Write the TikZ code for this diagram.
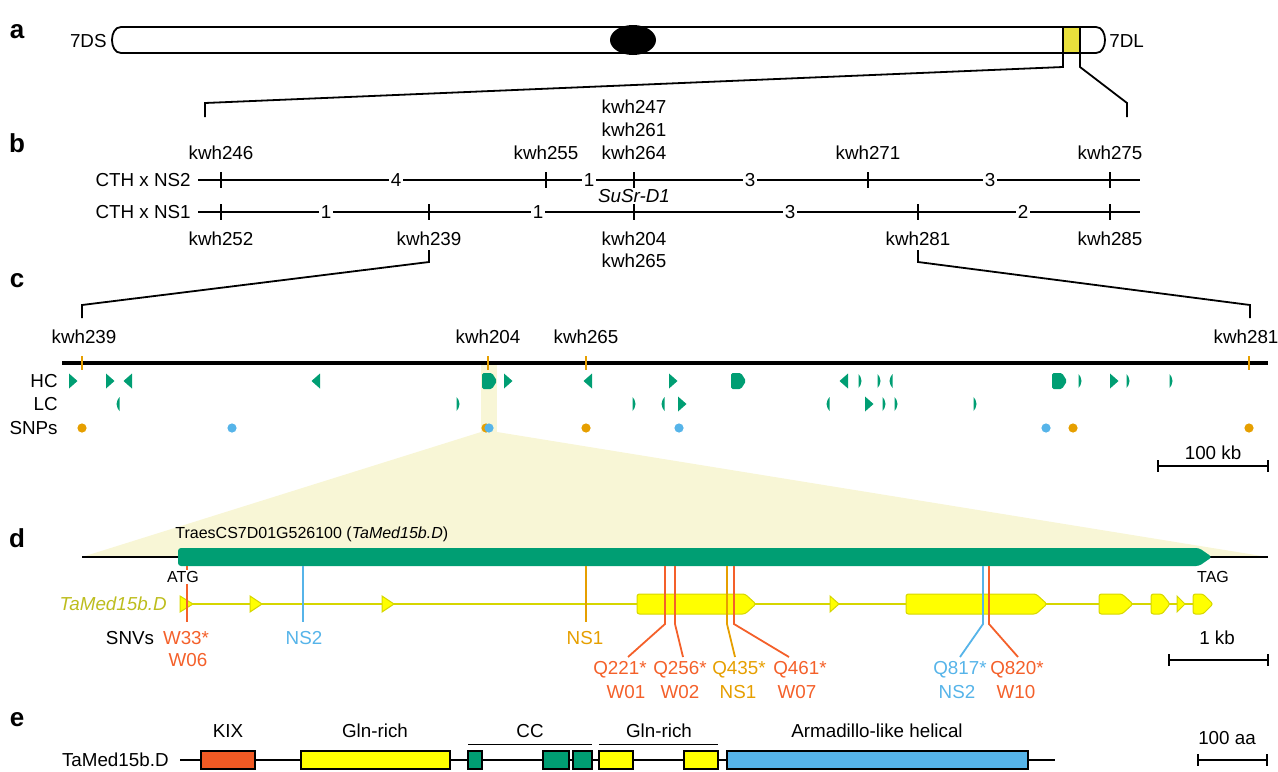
\documentclass[tikz,border=0pt]{standalone}
\usepackage{fontspec}
\setmainfont{Liberation Sans}
\usetikzlibrary{positioning}
\definecolor{hcgreen}{HTML}{009E73}
\definecolor{snporange}{HTML}{E69F00}
\definecolor{snpblue}{HTML}{56B4E9}
\definecolor{snvred}{HTML}{F4602A}
\definecolor{exonyel}{HTML}{FFFF00}
\definecolor{exonline}{HTML}{D6D600}
\definecolor{hilite}{HTML}{F8F6D6}
\definecolor{chromyel}{HTML}{E9E03C}
\definecolor{genelbl}{HTML}{BDBD1E}
\definecolor{kixred}{HTML}{F15A24}
\tikzset{lbl/.style={font=\fontsize{9.4}{11}\selectfont, inner sep=0.5pt},
  tiny/.style={font=\fontsize{8}{9.5}\selectfont, inner sep=0.5pt},
  panel/.style={font=\fontsize{13}{15}\selectfont\bfseries, inner sep=0pt},
  map/.style={line width=0.9pt},
  num/.style={lbl, fill=white, inner sep=0.8pt},
  snv/.style={line width=0.9pt},
  dom/.style={draw, line width=0.9pt},
  hc/.style={fill=hcgreen}}

\begin{document}
\begin{tikzpicture}[x=0.5pt, y=-0.5pt]
  \useasboundingbox (0,0) rectangle (1278,771);
  % a
  \node[panel] (pa) at (17,32) {a};
  \draw[map, fill=white] (630,27) -- (121,27) .. controls (109,27) and (109,53) .. (121,53) -- (630,53);
  \draw[map, fill=white] (636,27) -- (1096,27) .. controls (1108,27) and (1108,53) .. (1096,53) -- (636,53);
  \fill[chromyel] (1063,28) rectangle (1080,52);
  \draw[map] (1063,27) -- (1063,67) -- (205,103) -- (205,117);
  \draw[map] (1080,27) -- (1080,67) -- (1127,103) -- (1127,117);
  \fill (633,40) ellipse (23 and 15);
  \node[lbl, left] (s7DS) at (108,41) {7DS};
  \node[lbl, right] (s7DL) at (1108,41) {7DL};

  % b
  \node[panel] (pb) at (17,143) {b};
  \node[lbl, left] (ns2) at (192,180) {CTH x NS2};
  \node[lbl, left] (ns1) at (192,212) {CTH x NS1};
  \draw[map] (198,180) -- (1140,180);
  \draw[map] (198,212) -- (1140,212);
  \foreach \x in {221,546,634,868,1110} \draw[map] (\x,172) -- (\x,188);
  \foreach \x in {221,429,634,918,1110} \draw[map] (\x,204) -- (\x,220);
  \foreach \x/\n in {396/4,589/1,750/3,990/3} \node[num] (t\x) at (\x,180) {\n};
  \foreach \x/\n in {326/1,538/1,790/3,1023/2} \node[num] (u\x) at (\x,212) {\n};
  \node[lbl] (k246) at (221,153) {kwh246};
  \node[lbl] (k255) at (546,153) {kwh255};
  \node[lbl] (k264) at (634,153) {kwh264};
  \node[lbl] (k261) at (634,130) {kwh261};
  \node[lbl] (k247) at (634,107) {kwh247};
  \node[lbl] (k271) at (868,153) {kwh271};
  \node[lbl] (k275) at (1110,153) {kwh275};
  \node[lbl] (susr) at (634,196) {\textit{SuSr-D1}};
  \node[lbl] (k252) at (221,239) {kwh252};
  \node[lbl] (k239) at (429,239) {kwh239};
  \node[lbl] (k204) at (634,239) {kwh204};
  \node[lbl] (k265) at (634,261) {kwh265};
  \node[lbl] (k281) at (918,239) {kwh281};
  \node[lbl] (k285) at (1110,239) {kwh285};
  \draw[map] (429,250) -- (429,262) -- (82,305) -- (82,318);
  \draw[map] (918,250) -- (918,262) -- (1250,305) -- (1250,318);

  % c
  \node[panel] (pc) at (17,281) {c};
  \fill[hilite] (481,363) rectangle (497,433);
  \fill[hilite] (481,432) -- (497,432) -- (1268,557) -- (82,557) -- cycle;
  \draw[line width=1.7pt] (62,363) -- (1268,363);
  \foreach \x in {82,488,586,1249} \draw[snporange, line width=0.9pt] (\x,356) -- (\x,370);
  \node[lbl] (c239) at (84,337) {kwh239};
  \node[lbl] (c204) at (488,337) {kwh204};
  \node[lbl] (c265) at (586,337) {kwh265};
  \node[lbl] (c281) at (1246,337) {kwh281};
  \node[lbl, left] (rhc) at (59,381) {HC};
  \node[lbl, left] (rlc) at (59,404) {LC};
  \node[lbl, left] (rsnp) at (59,428) {SNPs};
  % gene models
  \foreach \x/\y in {73/381,110/381,508/381,673/381,1114/381,682/404,869/404}
    \fill[hc] (\x-4,\y-7.5) -- (\x+4.5,\y) -- (\x-4,\y+7.5) -- cycle;
  \foreach \x/\y in {128/381,316/381,588/381,844/381}
    \fill[hc] (\x+4,\y-7.5) -- (\x-4.5,\y) -- (\x+4,\y+7.5) -- cycle;
  \foreach \x in {489,738,1059}
    \fill[hc, rounded corners=0.8pt] (\x-7,373) -- (\x+3,373) -- (\x+8,381) -- (\x+3,389) -- (\x-7,389) -- cycle;
  \foreach \x/\y in {860/381,879/381,1080/381,1128/381,1171/381,458/404,634/404,884/404,896/404,975/404}
    \fill[hc] (\x-1.5,\y-7) -- (\x+0.5,\y-4) -- (\x+1.5,\y) -- (\x+0.5,\y+4) -- (\x-1.5,\y+7) -- cycle;
  \foreach \x/\y in {891/381,118/404,663/404,828/404}
    \fill[hc] (\x+1.5,\y-7) -- (\x-0.5,\y-4) -- (\x-1.5,\y) -- (\x-0.5,\y+4) -- (\x+1.5,\y+7) -- cycle;
  \foreach \x in {82,486,586,1073,1249} \fill[snporange] (\x,428) circle (4.6);
  \foreach \x in {232,489,679,1046} \fill[snpblue] (\x,428) circle (4.6);
  \node[lbl] (kb) at (1213,453) {100 kb};
  \draw[map] (1158,466) -- (1268,466);
  \draw[map] (1158,460) -- (1158,472) (1268,460) -- (1268,472);

  % d
  \node[panel] (pd) at (17,538) {d};
  \draw[map] (82,557) -- (1268,557);
  \fill[hcgreen, rounded corners=1.5pt] (178,548) -- (1199,548) -- (1212,557) -- (1199,566) -- (178,566) -- cycle;
  \node[tiny, right] (gname) at (174,534) {TraesCS7D01G526100 (\textit{TaMed15b.D})};
  \node[lbl, left, text=genelbl] (tam) at (168,604) {\textit{TaMed15b.D}};
  \draw[exonline, line width=0.8pt] (180,604) -- (1212,604);
  \foreach \a/\b in {180/193,250/262,382/394,830/839,1177/1185}
    \filldraw[fill=exonyel, draw=exonline, line width=0.5pt] (\a,596) -- (\b,604) -- (\a,612) -- cycle;
  \foreach \a/\b/\c in {637/745/756,906/1036/1047,1099/1122/1133,1151/1162/1170,1193/1203/1213}
    \filldraw[fill=exonyel, draw=exonline, line width=0.5pt, rounded corners=1.2pt] (\a,594) -- (\b,594) -- (\c,604) -- (\b,614) -- (\a,614) -- cycle;
  % SNVs
  \draw[snv, snvred] (187,566) -- (187,622);
  \draw[snv, snpblue] (303,566) -- (303,622);
  \draw[snv, snporange] (586,566) -- (586,622);
  \draw[snv, snvred] (665,566) -- (665,624) -- (628,657);
  \draw[snv, snvred] (675,566) -- (675,624) -- (683,657);
  \draw[snv, snporange] (727,566) -- (727,624) -- (735,657);
  \draw[snv, snvred] (734,566) -- (734,624) -- (789,657);
  \draw[snv, snpblue] (983,566) -- (983,624) -- (960,657);
  \draw[snv, snvred] (989,566) -- (989,624) -- (1018,657);
  \node[tiny, fill=white] (atg) at (183,577) {ATG};
  \node[tiny] (tag) at (1213,577) {TAG};
  \node[lbl] (snvs) at (130,638) {SNVs};
  \node[lbl, text=snvred] (w33) at (186,638) {W33*};
  \node[lbl, text=snvred] (w06) at (188,660) {W06};
  \node[lbl, text=snpblue] (sns2) at (304,638) {NS2};
  \node[lbl, text=snporange] (sns1) at (585,638) {NS1};
  \node[lbl, text=snvred] (q221) at (620,670) {Q221*};
  \node[lbl, text=snvred] (w01) at (626,692) {W01};
  \node[lbl, text=snvred] (q256) at (680,670) {Q256*};
  \node[lbl, text=snvred] (w02) at (680,692) {W02};
  \node[lbl, text=snporange] (q435) at (739,670) {Q435*};
  \node[lbl, text=snporange] (qns1) at (738,692) {NS1};
  \node[lbl, text=snvred] (q461) at (800,670) {Q461*};
  \node[lbl, text=snvred] (w07) at (797,692) {W07};
  \node[lbl, text=snpblue] (q817) at (960,670) {Q817*};
  \node[lbl, text=snpblue] (qns2) at (957,692) {NS2};
  \node[lbl, text=snvred] (q820) at (1017,670) {Q820*};
  \node[lbl, text=snvred] (w10) at (1016,692) {W10};
  \node[lbl] (kb1) at (1217,638) {1 kb};
  \draw[map] (1169,660) -- (1268,660);
  \draw[map] (1169,654) -- (1169,666) (1268,654) -- (1268,666);

  % e
  \node[panel] (pe) at (17,720) {e};
  \node[lbl, left] (prot) at (170,760) {TaMed15b.D};
  \draw[map] (180,760) -- (1055,760);
  \draw[dom, fill=kixred] (201,751) rectangle (255,769);
  \draw[dom, fill=exonyel] (301,751) rectangle (450,769);
  \draw[dom, fill=hcgreen] (468,751) rectangle (482,769);
  \draw[dom, fill=hcgreen] (543,751) rectangle (569,769);
  \draw[dom, fill=hcgreen] (573,751) rectangle (592,769);
  \draw[dom, fill=exonyel] (599,751) rectangle (633,769);
  \draw[dom, fill=exonyel] (684,751) rectangle (718,769);
  \draw[dom, fill=snpblue] (727,751) rectangle (1028,769);
  \draw[line width=0.4pt] (468,744) -- (592,744);
  \draw[line width=0.4pt] (599,744) -- (718,744);
  \node[lbl] (kix) at (228,731) {KIX};
  \node[lbl] (gln1) at (375,731) {Gln-rich};
  \node[lbl] (cc) at (530,731) {CC};
  \node[lbl] (gln2) at (659,731) {Gln-rich};
  \node[lbl] (arm) at (877,731) {Armadillo-like helical};
  \node[lbl] (aa) at (1227,738) {100 aa};
  \draw[map] (1198,760) -- (1267,760);
  \draw[map] (1198,754) -- (1198,766) (1267,754) -- (1267,766);
\end{tikzpicture}
\end{document}
